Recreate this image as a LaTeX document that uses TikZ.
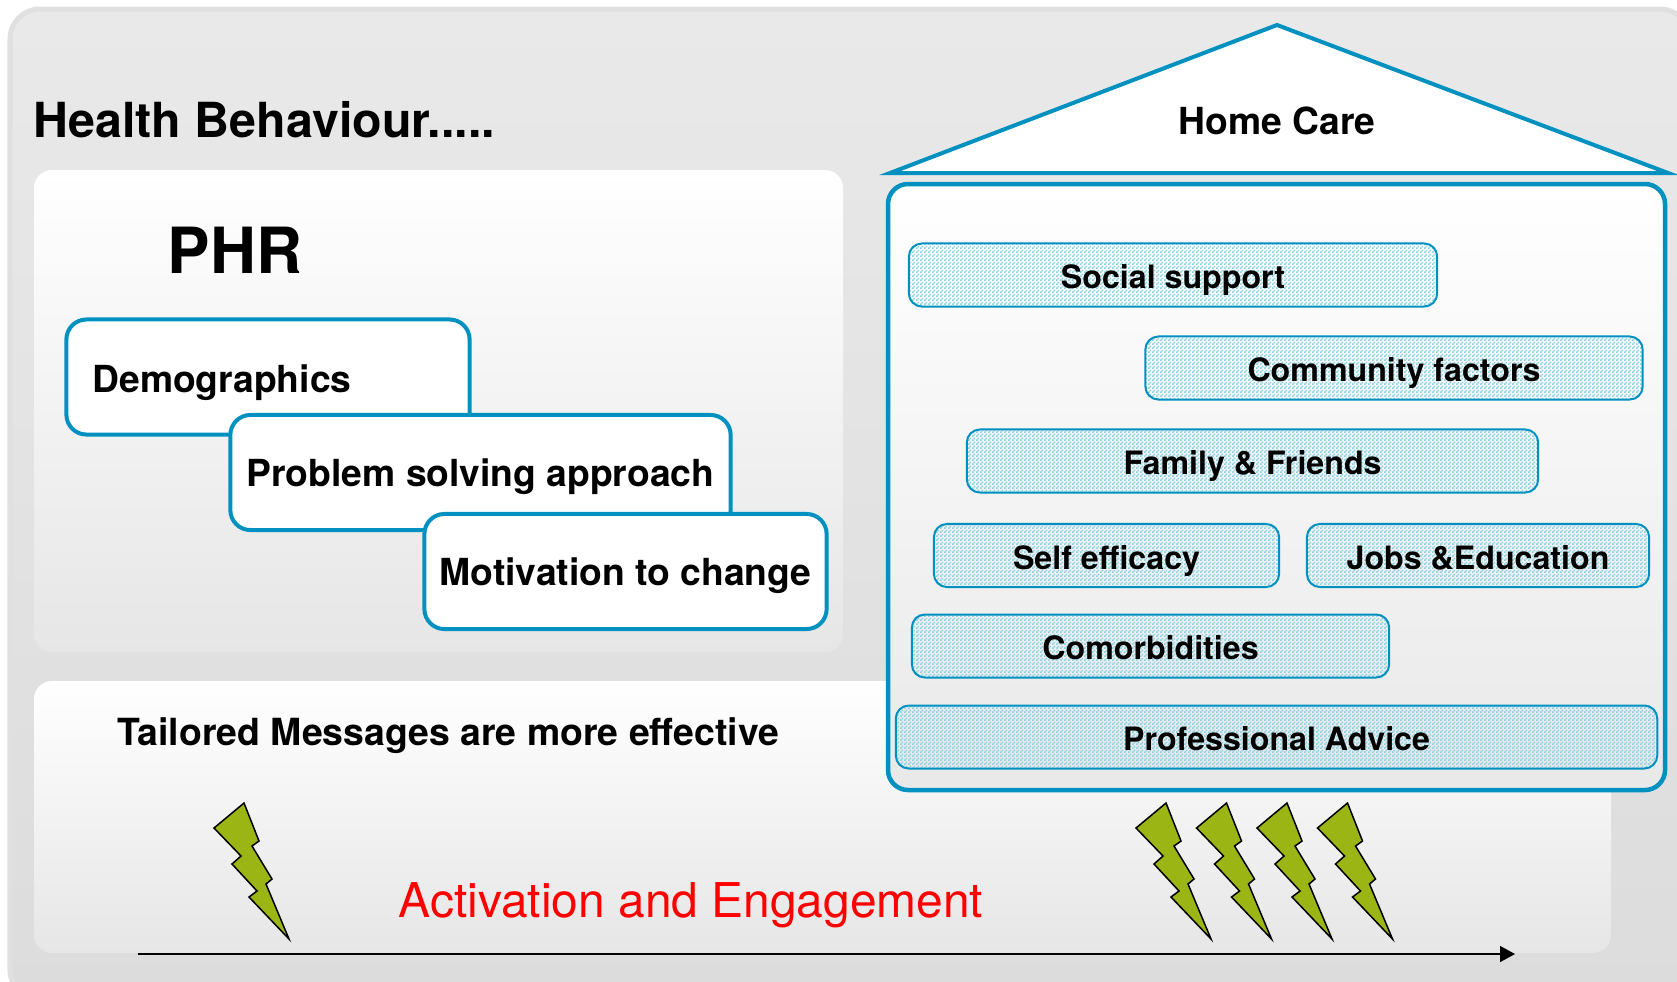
\documentclass[tikz,border=0pt]{standalone}
\usepackage{fontspec}
\setmainfont{TeX Gyre Heros}
\usetikzlibrary{arrows.meta}
\usetikzlibrary{patterns}
\definecolor{mblue}{RGB}{0, 145, 192}
\definecolor{mspeck}{RGB}{135, 208, 226}
\definecolor{mbolt}{RGB}{154, 181, 20}
\definecolor{mrim}{RGB}{224, 224, 224}
\definecolor{mtop}{RGB}{233, 233, 233}
\definecolor{mbottom}{RGB}{220, 220, 220}
\definecolor{mfade}{RGB}{230, 230, 230}
\pgfdeclarepatternformonly{speck}{\pgfqpoint{0pt}{0pt}}{\pgfqpoint{1.138pt}{1.138pt}}{\pgfqpoint{1.138pt}{1.138pt}}{
  \pgfpathrectangle{\pgfqpoint{0pt}{0pt}}{\pgfqpoint{0.569pt}{0.569pt}}
  \pgfpathrectangle{\pgfqpoint{0.569pt}{0.569pt}}{\pgfqpoint{0.569pt}{0.569pt}}
  \pgfusepath{fill}}
\tikzset{panel/.style = {rounded corners=0.18cm, top color=white, bottom color=mfade}}
\tikzset{card/.style = {draw=mblue, line width=0.04cm, fill=white, rounded corners=0.2cm,
                        minimum height=1.15cm, font=\fontsize{10.6pt}{13pt}\selectfont\bfseries,
                        text height=1.9ex, text depth=0.4ex}}
\tikzset{bar/.style = {draw=mblue, line width=0.02cm, rounded corners=0.13cm,
                       pattern=speck, pattern color=mspeck, minimum height=0.63cm, inner ysep=0,
                       font=\fontsize{9.15pt}{11pt}\selectfont\bfseries,
                       text height=1.9ex, text depth=0.4ex}}
\tikzset{bolt/.style = {draw=black, line width=0.015cm, fill=mbolt, line join=miter}}

\begin{document}
\begin{tikzpicture}[x=0.01cm, y=-0.01cm]
    \useasboundingbox (0, 0) rectangle (1677, 981);

    \draw [draw=mrim, line width=0.05cm, rounded corners=0.3cm, top color=mtop, bottom color=mbottom]
      (10, 9) rectangle (1690, 1000);

    \node (title) at (33, 137) [anchor=base west, inner sep=0, font=\fontsize{13.75pt}{16pt}\selectfont\bfseries] {Health Behaviour.....};

    % left panel
    \path [panel] (34, 170) rectangle (843, 652);
    \node (phr) at (167, 273) [anchor=base west, inner sep=0, font=\fontsize{18.1pt}{22pt}\selectfont\bfseries] {PHR};
    \node (demo) at (268, 377) [card, minimum width=4.03cm, text width=3.51cm, inner xsep=0.26cm, text depth=0.2ex] {Demographics};
    \node (problem) at (480.5, 472.5) [card, minimum width=5.0cm] {Problem solving approach};
    \node (motivation) at (625.5, 571.5) [card, minimum width=4.02cm] {Motivation to change};

    % lower panel
    \path [panel] (34, 681) rectangle (1611, 953);
    \node (tailored) at (117, 745) [anchor=base west, inner sep=0, font=\fontsize{10.63pt}{13pt}\selectfont\bfseries] {Tailored Messages are more effective};
    \node (activation) at (398, 917) [anchor=base west, inner sep=0, text=red, font=\fontsize{13.63pt}{16pt}\selectfont] {Activation and Engagement};

    % house
    \draw [draw=mblue, line width=0.04cm, fill=white, line join=miter] (1277, 25) -- (1668, 173) -- (890, 173) -- cycle;
    \node (home) at (1277, 134) [anchor=base, inner sep=0, font=\fontsize{10.6pt}{13pt}\selectfont\bfseries] {Home Care};
    \draw [draw=mblue, line width=0.045cm, rounded corners=0.2cm, top color=white, bottom color=mfade!90!white] (888, 184) rectangle (1665, 790);

    \node (social) at (1173, 275) [bar, minimum width=5.28cm] {Social support};
    \node (community) at (1394, 368) [bar, minimum width=4.97cm] {Community factors};
    \node (family) at (1252.5, 461) [bar, minimum width=5.71cm] {Family \& Friends};
    \node (efficacy) at (1106.5, 555.5) [bar, minimum width=3.45cm] {Self efficacy};
    \node (jobs) at (1478, 555.5) [bar, minimum width=3.42cm] {Jobs \&Education};
    \node (comorb) at (1150.5, 646) [bar, minimum width=4.77cm] {Comorbidities};
    \node (advice) at (1276.5, 737) [bar, minimum width=7.61cm] {Professional Advice};

    % bolts and timeline
    \foreach \dx in {0, 922, 982.5, 1043, 1103.5}
      \draw [bolt, shift={(\dx, 0)}] (244, 803) -- (259, 841) -- (252, 846) -- (272, 879) -- (266, 884)
        -- (289, 939) -- (249, 897) -- (257, 891) -- (232, 864) -- (241, 856) -- (214, 828) -- cycle;

    \coordinate (start) at (138, 954);
    \coordinate (end) at (1515, 954);
    \draw [line width=0.015cm, -{Triangle[length=0.15cm, width=0.16cm]}] (start) -- (end);
  \end{tikzpicture}
\end{document}
